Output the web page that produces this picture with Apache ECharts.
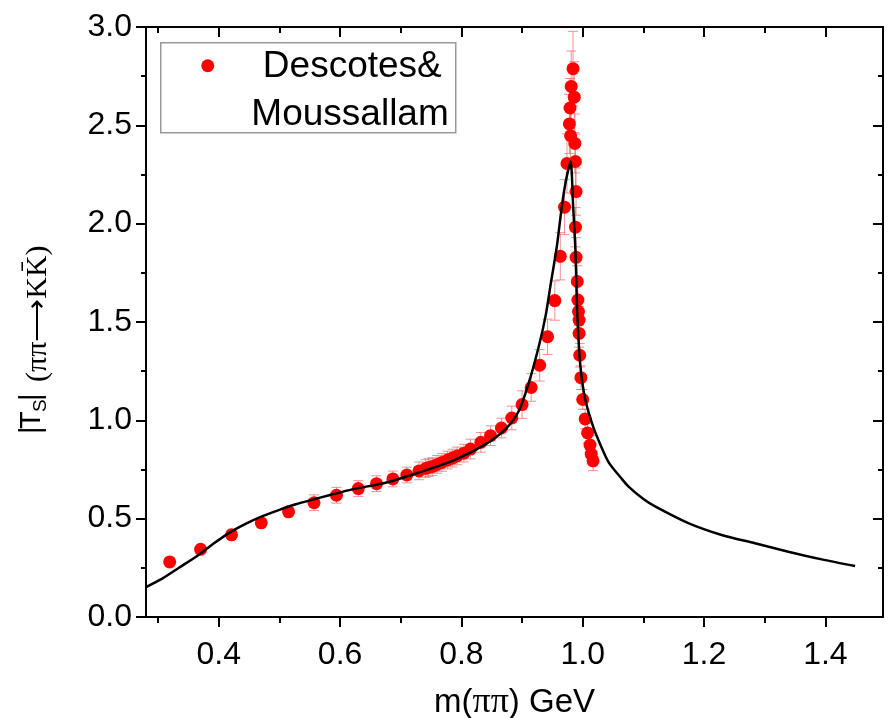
<!DOCTYPE html>
<html>
<head>
<meta charset="utf-8">
<script src="https://cdn.jsdelivr.net/npm/echarts@6/dist/echarts.min.js"></script>
<style>
  html, body { margin: 0; padding: 0; background: #fff; }
  #main { width: 889px; height: 718px; }
</style>
</head>
<body>
<div id="main"></div>
<script>
var myChart = echarts.init(document.getElementById('main'));

// model curve
const curveX = [0.280, 0.308, 0.335, 0.363, 0.390, 0.417, 0.445, 0.472, 0.500, 0.527, 0.555, 0.582,
  0.620, 0.675, 0.730, 0.785, 0.840, 0.873, 0.895, 0.911, 0.928, 0.939, 0.947, 0.953, 0.958, 0.966,
  0.973, 0.980, 0.984, 0.988, 0.991, 0.996, 1.004, 1.018, 1.030, 1.043, 1.065, 1.076, 1.100, 1.120,
  1.175, 1.229, 1.284, 1.339, 1.394, 1.449];
const curveY = [0.152, 0.198, 0.252, 0.308, 0.370, 0.428, 0.475, 0.513, 0.545, 0.573, 0.597, 0.619,
  0.649, 0.683, 0.735, 0.794, 0.879, 0.956, 1.050, 1.190, 1.382, 1.535, 1.689, 1.800, 1.900, 2.098,
  2.230, 2.316, 2.100, 1.860, 1.540, 1.280, 1.109, 0.960, 0.870, 0.785, 0.700, 0.662, 0.600, 0.561,
  0.476, 0.417, 0.375, 0.332, 0.293, 0.259];

// Descotes & Moussallam points
const pointsX = [0.319, 0.370, 0.421, 0.470, 0.515, 0.557, 0.594, 0.630, 0.660, 0.687, 0.710, 0.730,
  0.741, 0.746, 0.752, 0.760, 0.768, 0.777, 0.785, 0.793, 0.804, 0.815, 0.832, 0.848, 0.866, 0.883,
  0.900, 0.915, 0.929, 0.942, 0.954, 0.963, 0.970, 0.974, 0.978, 0.979, 0.981, 0.984, 0.986, 0.980,
  0.987, 0.988, 0.989, 0.988, 0.989, 0.991, 0.992, 0.993, 0.994, 0.994, 0.995, 0.997, 1.000, 1.004,
  1.008, 1.012, 1.014, 1.017];
const pointsY = [0.280, 0.344, 0.418, 0.479, 0.535, 0.581, 0.619, 0.653, 0.678, 0.702, 0.722, 0.743,
  0.755, 0.760, 0.765, 0.776, 0.786, 0.798, 0.808, 0.819, 0.833, 0.854, 0.888, 0.922, 0.961, 1.012,
  1.080, 1.167, 1.280, 1.425, 1.609, 1.834, 2.084, 2.306, 2.507, 2.588, 2.698, 2.788, 2.643, 2.447,
  2.408, 2.316, 2.163, 1.982, 1.829, 1.706, 1.612, 1.553, 1.510, 1.442, 1.331, 1.217, 1.106, 1.007,
  0.936, 0.874, 0.828, 0.794];
const pointsErr = [0, 0, 0, 0.01, 0.015, 0.04, 0.04, 0.04, 0.04, 0.04, 0.04, 0.045,
  0.045, 0.045, 0.045, 0.045, 0.045, 0.045, 0.045, 0.045, 0.045, 0.05, 0.05, 0.05, 0.05, 0.06,
  0.07, 0.07, 0.08, 0.09, 0.10, 0.12, 0.14, 0.15, 0.15, 0.15, 0.18, 0.19, 0.18, 0.16,
  0.15, 0.14, 0.12, 0.10, 0.10, 0.08, 0.08, 0.07, 0.07, 0.07, 0.06, 0.06, 0.05, 0.05,
  0.05, 0.05, 0.05, 0.05];

const xMajor = [0.4, 0.6, 0.8, 1.0, 1.2, 1.4];
const xMinor = [0.3, 0.5, 0.7, 0.9, 1.1, 1.3];

const SANS = 'Liberation Sans, Arial, sans-serif';
const SERIF = 'Liberation Serif, Times New Roman, serif';

const curveData = curveX.map((x, i) => [x, curveY[i]]);
const pointData = pointsX.map((x, i) => [x, pointsY[i]]);
const errData = pointsX.map((x, i) => [x, pointsY[i] - pointsErr[i], pointsY[i] + pointsErr[i]])
  .filter((d, i) => pointsErr[i] > 0);

function xAxisPart(pos, values, len, inside, showLine, showLabel) {
  return {
    type: 'value', position: pos, min: 0.28, max: 1.495,
    axisLine: { show: showLine, onZero: false, lineStyle: { color: '#000', width: 2 } },
    axisTick: { show: true, inside: inside, length: len, customValues: values,
      lineStyle: { color: '#000', width: 2 } },
    axisLabel: { show: showLabel, customValues: values, fontSize: 32, color: '#000',
      fontFamily: SANS, margin: 22, formatter: v => v.toFixed(1) },
    splitLine: { show: false }
  };
}

function yAxisPart(pos, inside, showLabel) {
  return {
    type: 'value', position: pos, min: 0, max: 3, interval: 0.5,
    axisLine: { show: true, onZero: false, lineStyle: { color: '#000', width: 2 } },
    axisTick: { show: true, inside: inside, length: 10, lineStyle: { color: '#000', width: 2 } },
    minorTick: { show: true, splitNumber: 2, length: 5, lineStyle: { color: '#000', width: 2 } },
    axisLabel: { show: showLabel, fontSize: 32, color: '#000', fontFamily: SANS, margin: 14,
      formatter: v => v.toFixed(1) },
    splitLine: { show: false },
    minorSplitLine: { show: false }
  };
}

var option = {
  animation: false,
  backgroundColor: '#fff',
  grid: { left: 146, right: 6, top: 27, bottom: 101, outerBoundsMode: 'none', containLabel: false },
  xAxis: [
    Object.assign(xAxisPart('bottom', xMajor, 10, false, true, true), {
      name: '{a|m(}{p|ππ}{a|) GeV}', nameLocation: 'middle', nameGap: 68,
      nameTextStyle: { rich: {
        a: { fontSize: 33, fontFamily: SANS, color: '#000' },
        p: { fontSize: 36, fontFamily: SERIF, color: '#000' }
      } }
    }),
    xAxisPart('bottom', xMinor, 6, false, false, false),
    xAxisPart('top', xMajor, 10, true, true, false),
    xAxisPart('top', xMinor, 6, true, false, false)
  ],
  yAxis: [
    yAxisPart('left', false, true),
    yAxisPart('right', true, false)
  ],
  graphic: [
    {
      // y axis title, rotated to read bottom to top
      type: 'group', x: 32, y: 434, rotation: Math.PI / 2,
      children: [
        { type: 'text', x: 0, y: 0,
          style: { text: '|', fontSize: 29, fontFamily: SANS, fill: '#000',
            align: 'left', verticalAlign: 'middle' } },
        { type: 'text', x: 5, y: 0,
          style: { text: 'T', fontSize: 29, fontFamily: SANS, fill: '#000',
            align: 'left', verticalAlign: 'middle' } },
        { type: 'text', x: 22, y: 9,
          style: { text: 'S', fontSize: 19, fontFamily: SANS, fill: '#000',
            align: 'left', verticalAlign: 'middle' } },
        { type: 'text', x: 33, y: 0,
          style: { text: '|', fontSize: 29, fontFamily: SANS, fill: '#000',
            align: 'left', verticalAlign: 'middle' } },
        { type: 'text', x: 52, y: 6,
          style: { text: '(ππ\u27F6KK\u0304)', fontSize: 30, fontFamily: SERIF, fill: '#000',
            align: 'left', verticalAlign: 'middle' } }
      ]
    },
    {
      type: 'group', left: 160, top: 42,
      children: [
        { type: 'rect', shape: { x: 0, y: 0, width: 295, height: 90 },
          style: { fill: '#fff', stroke: '#999', lineWidth: 1.5 } },
        { type: 'circle', shape: { cx: 47, cy: 23, r: 6.5 }, style: { fill: '#ff0000' } },
        { type: 'text', x: 281, y: 24,
          style: { text: 'Descotes&', fontSize: 37, fontFamily: SANS, fill: '#000',
            align: 'right', verticalAlign: 'middle' } },
        { type: 'text', x: 288, y: 72,
          style: { text: 'Moussallam', fontSize: 37, fontFamily: SANS, fill: '#000',
            align: 'right', verticalAlign: 'middle' } }
      ]
    }
  ],
  series: [
    {
      type: 'custom',
      name: 'err',
      z: 2,
      data: errData,
      renderItem: function (params, api) {
        var lo = api.coord([api.value(0), api.value(1)]);
        var hi = api.coord([api.value(0), api.value(2)]);
        var w = 5;
        var st = { stroke: 'rgba(232,100,100,0.7)', lineWidth: 1 };
        return {
          type: 'group',
          children: [
            { type: 'line', shape: { x1: lo[0], y1: lo[1], x2: hi[0], y2: hi[1] }, style: st },
            { type: 'line', shape: { x1: lo[0] - w, y1: lo[1], x2: lo[0] + w, y2: lo[1] }, style: st },
            { type: 'line', shape: { x1: hi[0] - w, y1: hi[1], x2: hi[0] + w, y2: hi[1] }, style: st }
          ]
        };
      }
    },
    {
      type: 'scatter',
      name: 'Descotes&Moussallam',
      data: pointData,
      symbol: 'circle',
      symbolSize: 13,
      itemStyle: { color: '#ff0000', opacity: 1 },
      z: 3
    },
    {
      type: 'line',
      name: 'model',
      data: curveData,
      showSymbol: false,
      symbol: 'none',
      smooth: 0.25,
      lineStyle: { color: '#000', width: 2.5 },
      z: 4
    }
  ]
};

myChart.setOption(option);
</script>
</body>
</html>
